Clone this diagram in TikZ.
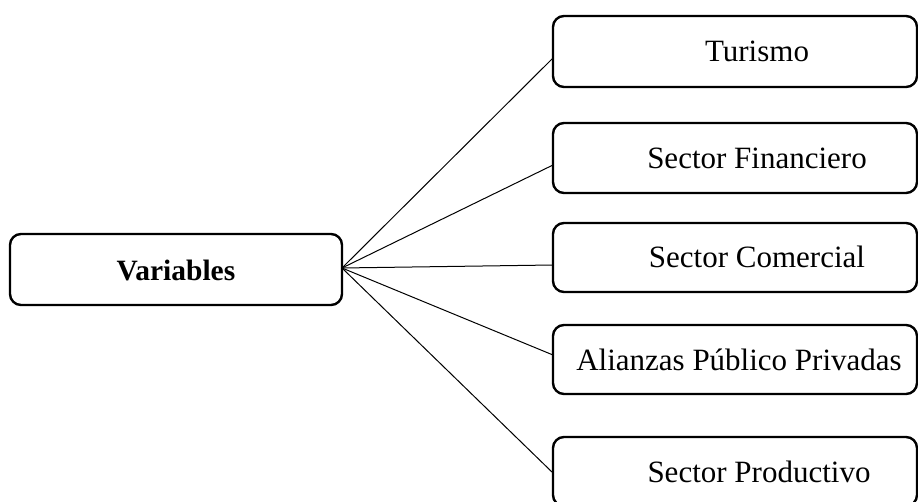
\documentclass[tikz,border=0pt]{standalone}
\usepackage{fontspec}
\setmainfont{Liberation Serif}
\begin{document}
\begin{tikzpicture}[x=1pt,y=-1pt,
  box/.style={draw=black, line width=2.4pt, rounded corners=11pt},
  lbl/.style={font=\fontsize{31}{36}\selectfont, inner sep=0pt, anchor=center},
  link/.style={draw=black, line width=1pt}]
\useasboundingbox (0,0) rectangle (918,502);
% root box
\draw[box] (10,234) rectangle (342,305);
\node[inner sep=0pt, font=\fontsize{29.5}{34}\selectfont\bfseries] (var) at (176,270) {Variables};
\coordinate (hub) at (342,268);
% branch boxes
\draw[box] (553,16) rectangle (917,87);
\draw[box] (553,123) rectangle (917,193);
\draw[box] (553,223) rectangle (917,292);
\draw[box] (553,325) rectangle (917,394);
\draw[box] (553,437) rectangle (917,506);
\node[lbl] (tur) at (757,51) {Turismo};
\node[lbl] (fin) at (757,158) {Sector Financiero};
\node[lbl] (com) at (757,257) {Sector Comercial};
\node[lbl] (ali) at (739,360) {Alianzas Público Privadas};
\node[lbl] (pro) at (759,472) {Sector Productivo};
% attachment points on the left edges
\coordinate (tin) at (553,58);
\coordinate (fi) at (553,165);
\coordinate (ci) at (553,265);
\coordinate (ai) at (553,355);
\coordinate (pi) at (553,473);
\foreach \t in {tin,fi,ci,ai,pi} \draw[link] (hub) -- (\t);
\end{tikzpicture}
\end{document}
